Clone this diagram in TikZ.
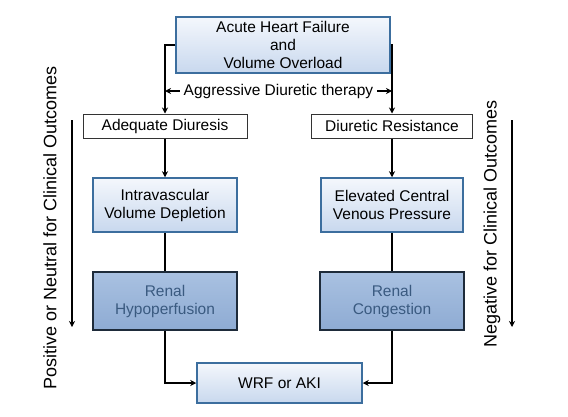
\documentclass[tikz,border=0pt]{standalone}
\usepackage{fontspec}
\setmainfont{Liberation Sans}
\usetikzlibrary{arrows.meta}
\definecolor{boxline}{HTML}{3C6E9E}
\definecolor{boxtop}{HTML}{F4F7FC}
\definecolor{boxbot}{HTML}{C8D8EE}
\definecolor{darktop}{HTML}{A9C1E1}
\definecolor{darkbot}{HTML}{8EABD3}
\definecolor{darktext}{HTML}{3A5A80}
\definecolor{darkline}{HTML}{1E2B3A}
\begin{document}
\begin{tikzpicture}[x=1pt,y=-1pt,
   every node/.style={font=\fontsize{15.5}{18}\selectfont,align=center,inner sep=0pt},
   lightbox/.style={draw=boxline,line width=1.5pt,top color=boxtop,bottom color=boxbot},
   plainbox/.style={draw=black!80,line width=1pt,fill=white},
   darkbox/.style={draw=darkline,line width=1.5pt,top color=darktop,bottom color=darkbot,text=darktext},
   sidetext/.style={rotate=90,font=\fontsize{18}{21}\selectfont},
   arr/.style={line width=1.6pt,-{Stealth[length=6pt,width=6pt]}},
   link/.style={line width=1.6pt}]
   \useasboundingbox (0,0) rectangle (568,416);

   \node[lightbox,minimum width=214pt,minimum height=56pt] (ahf) at (283,45)
      {Acute Heart Failure\\and\\Volume Overload};
   \node[inner xsep=4pt] (adt) at (278.5,91) {Aggressive Diuretic therapy};

   \node[plainbox,minimum width=164pt,minimum height=24pt] (ad) at (165,126) {Adequate Diuresis};
   \node[plainbox,minimum width=161pt,minimum height=24pt] (dr) at (392,126) {Diuretic Resistance};

   \node[lightbox,minimum width=144pt,minimum height=54pt] (ivd) at (165,205)
      {Intravascular\\Volume Depletion};
   \node[lightbox,minimum width=142pt,minimum height=54pt] (cvp) at (392,205)
      {Elevated Central\\Venous Pressure};

   \node[darkbox,minimum width=144pt,minimum height=58pt] (rh) at (165,301)
      {Renal\\Hypoperfusion};
   \node[darkbox,minimum width=144pt,minimum height=58pt] (rc) at (392,301)
      {Renal\\Congestion};

   \node[lightbox,minimum width=165pt,minimum height=40pt] (wrf) at (279.5,383) {WRF or AKI};

   \draw[arr] (ahf.west) -| (ad.north);
   \draw[arr] (ahf.east) -| (dr.north);
   \draw[arr] (adt.west) -- (adt.west -| ad.north);
   \draw[arr] (adt.east) -- (adt.east -| dr.north);

   \draw[arr] (ad) -- (ivd);
   \draw[arr] (dr) -- (cvp);
   \draw[link] (ivd) -- (rh);
   \draw[link] (cvp) -- (rc);
   \draw[arr] (rh.south) |- (wrf.west);
   \draw[arr] (rc.south) |- (wrf.east);

   % outcome scales
   \coordinate (ltop) at (72,120);
   \coordinate (lbot) at (72,327);
   \coordinate (rtop) at (512,120);
   \coordinate (rbot) at (512,327);
   \draw[arr] (ltop) -- (lbot);
   \draw[arr] (rtop) -- (rbot);
   \node[sidetext] (ltxt) at (50,228) {Positive or Neutral for Clinical Outcomes};
   \node[sidetext] (rtxt) at (492,224) {Negative for Clinical Outcomes};
\end{tikzpicture}
\end{document}
